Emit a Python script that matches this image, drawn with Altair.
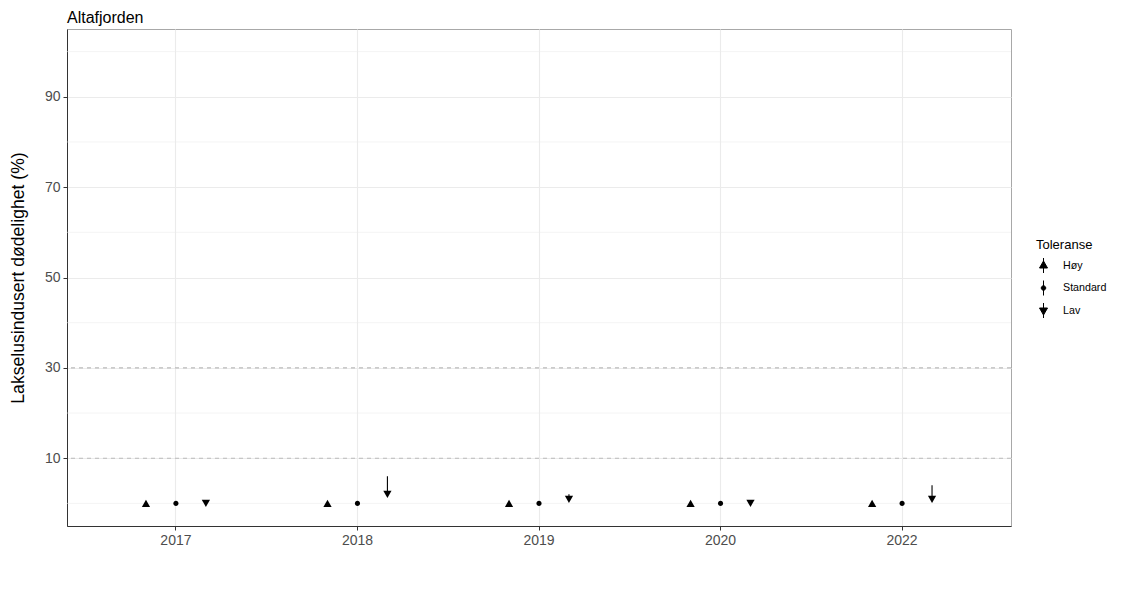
import altair as alt
import pandas as pd

# ---- data ----
years = ["2017", "2018", "2019", "2020", "2022"]
tolerance = ["Høy", "Standard", "Lav"]
hoy = [0.0, 0.0, 0.0, 0.0, 0.0]
standard = [0.0, 0.0, 0.0, 0.0, 0.0]
lav = [0.0, 2.0, 0.9, 0.0, 0.9]
lav_upper = [None, 6.0, 2.0, None, 4.0]
thresholds = [10, 30]
y_major = [10, 30, 50, 70, 90]
y_minor = [0, 20, 40, 60, 80, 100]

rows = []
for i, yr in enumerate(years):
    rows.append({"Aar": yr, "Toleranse": "Høy", "verdi": hoy[i], "ovre": None})
    rows.append({"Aar": yr, "Toleranse": "Standard", "verdi": standard[i], "ovre": None})
    rows.append({"Aar": yr, "Toleranse": "Lav", "verdi": lav[i], "ovre": lav_upper[i]})
df = pd.DataFrame(rows)

FONT = "Liberation Sans, Arial, sans-serif"

y_scale = alt.Scale(domain=[-5, 105], nice=False, zero=False)
y_axis = alt.Axis(values=y_major, title="Lakselusindusert dødelighet (%)", grid=True)
x_enc = alt.X(
    "Aar:N",
    sort=years,
    scale=alt.Scale(domain=years, paddingInner=0, paddingOuter=0.1),
    axis=alt.Axis(title=None, labelAngle=0, bandPosition=0.5, grid=True),
)
# dodge slots: two empty slots at the sides keep the three groups close together
dodge_domain = ["_l"] + tolerance + ["_r"]
xo_enc = alt.XOffset(
    "Toleranse:N",
    sort=dodge_domain,
    scale=alt.Scale(domain=dodge_domain, paddingInner=0, paddingOuter=0.53),
)

circle_path = "M-0.62,0A0.62,0.62,0,1,1,0.62,0A0.62,0.62,0,1,1,-0.62,0Z"
legend_paths = [
    "M0,-1.5L0,1.5M-0.8,0.5L0,-0.9L0.8,0.5Z",
    "M0,-1.5L0,1.5M-0.45,0A0.45,0.45,0,1,1,0.45,0A0.45,0.45,0,1,1,-0.45,0Z",
    "M0,-1.5L0,1.5M-0.8,-0.5L0,0.9L0.8,-0.5Z",
]

minor = alt.Chart(pd.DataFrame({"v": y_minor})).mark_rule(
    color="#EBEBEB", strokeWidth=0.55
).encode(y=alt.Y("v:Q", scale=y_scale, axis=y_axis))

dashed = alt.Chart(pd.DataFrame({"t": thresholds})).mark_rule(
    color="#BBBBBB", strokeDash=[4, 4], strokeWidth=1.1
).encode(y=alt.Y("t:Q", scale=y_scale, axis=y_axis))

err = alt.Chart(df).transform_filter("isValid(datum.ovre)").mark_rule(
    color="black", strokeWidth=1.1
).encode(
    x=x_enc,
    xOffset=xo_enc,
    y=alt.Y("verdi:Q", scale=y_scale, axis=y_axis),
    y2="ovre:Q",
)

pts = alt.Chart(df).mark_point(filled=True, color="black", opacity=1, size=68).encode(
    x=x_enc,
    xOffset=xo_enc,
    y=alt.Y("verdi:Q", scale=y_scale, axis=y_axis),
    shape=alt.Shape(
        "Toleranse:N",
        scale=alt.Scale(domain=tolerance, range=["triangle-up", circle_path, "triangle-down"]),
        legend=None,
    ),
)

# legend-only layer (draws no marks; the legend comes from the fixed domain)
legend_layer = alt.Chart(df).transform_filter("false").mark_point(
    filled=True, fill="black", stroke="black", strokeWidth=1, opacity=1
).encode(
    shape=alt.Shape(
        "Toleranse:N",
        scale=alt.Scale(domain=tolerance, range=legend_paths),
        legend=alt.Legend(
            title="Toleranse",
            orient="none",
            legendX=969,
            legendY=210,
            symbolSize=100,
            symbolStrokeWidth=1,
            symbolOffset=2,
            labelOffset=14,
            rowPadding=3.5,
            titlePadding=8,
            padding=0,
        ),
    ),
)

chart = (
    alt.layer(minor, dashed, err, pts, legend_layer)
    .resolve_scale(shape="independent")
    .properties(
        width=944,
        height=497,
        autosize=alt.AutoSizeParams(type="none"),
        padding={"left": 59, "top": 21, "right": 103, "bottom": 56},
        title=alt.Title(
            "Altafjorden",
            anchor="start",
            frame="group",
            fontSize=16,
            font=FONT,
            color="black",
            fontWeight="normal",
            offset=3,
        ),
    )
    .configure_view(stroke="#A8A8A8", strokeWidth=1)
    .configure_axis(
        domainColor="#333333",
        domainWidth=1,
        tickColor="#333333",
        tickSize=4,
        labelColor="#4D4D4D",
        labelFont=FONT,
        labelFontSize=14,
        labelPadding=3,
        gridColor="#EBEBEB",
        gridWidth=1.1,
        titleFont=FONT,
        titleFontSize=17.6,
        titleColor="black",
        titleFontWeight="normal",
        titlePadding=17,
    )
    .configure_legend(
        titleFont=FONT,
        titleFontSize=13,
        titleColor="black",
        titleFontWeight="normal",
        labelFont=FONT,
        labelFontSize=10.7,
        labelColor="black",
    )
)

chart.save("out.html", embed_options={"renderer": "svg", "actions": False})
